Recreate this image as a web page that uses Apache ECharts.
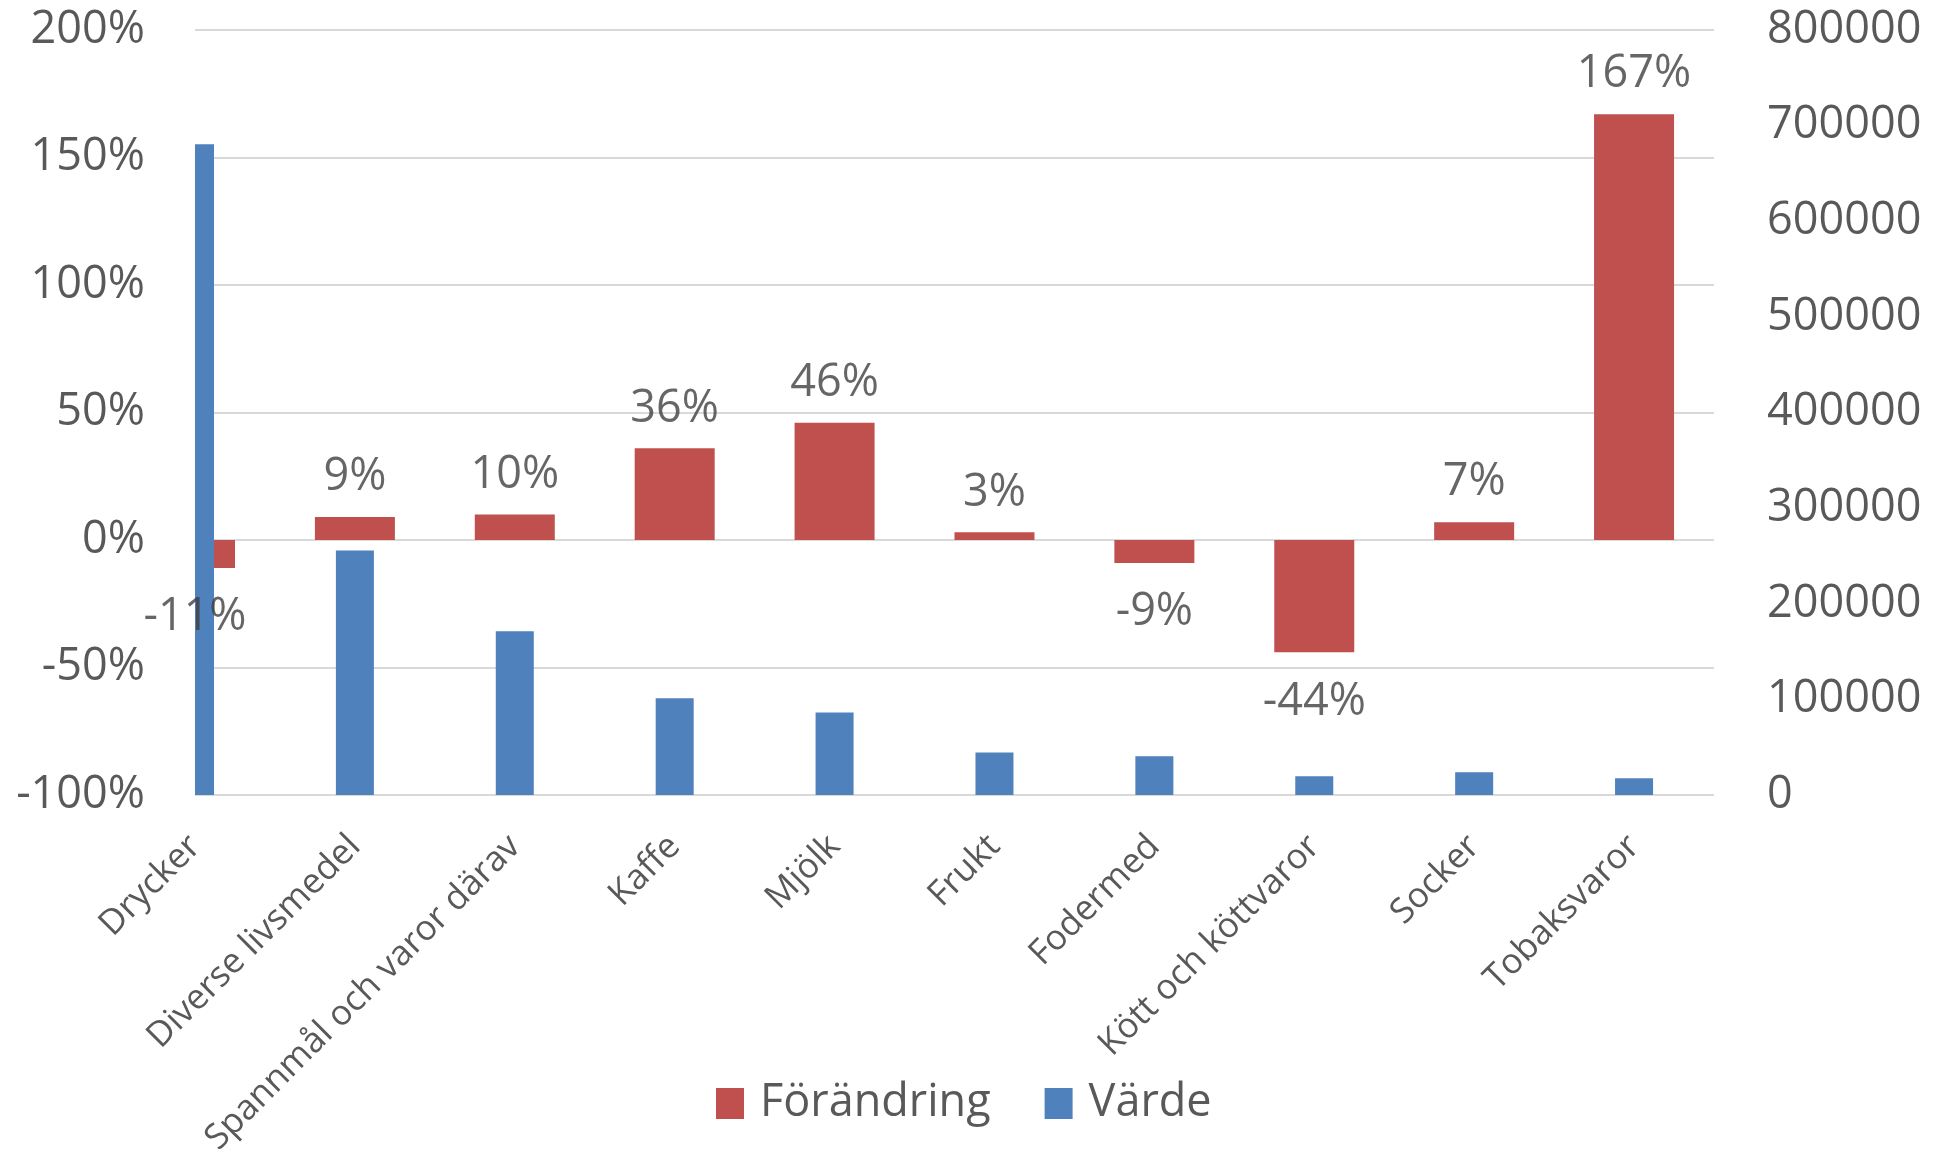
<!DOCTYPE html>
<html>
<head>
<meta charset="utf-8">
<title>Förändring och värde</title>
<script src="https://cdn.jsdelivr.net/npm/echarts@6/dist/echarts.min.js"></script>
<style>
  html, body { margin: 0; padding: 0; background: #fff; }
  #chart { width: 1941px; height: 1149px; }
</style>
</head>
<body>
<div id="chart"></div>
<script>
// kategorier
const categories = ['Drycker', 'Diverse livsmedel', 'Spannmål och varor därav', 'Kaffe', 'Mjölk',
  'Frukt', 'Fodermed', 'Kött och köttvaror', 'Socker', 'Tobaksvaror']
// förändring (andel)
const change = [-0.11, 0.09, 0.10, 0.36, 0.46, 0.03, -0.09, -0.44, 0.07, 1.67]
// värde
const value = [680500, 255600, 171300, 101200, 86200, 44400, 40500, 19600, 23800, 17500]

const RED = '#C0504D'
const BLUE = '#4F81BD'
const FONT = 'Open Sans'

const pct = v => Math.round(v * 100) + '%'

// staplar som klipps mot plotytan (första kategorin ligger på vänsterkanten)
function barItem(width) {
  return function (params, api) {
    const x = api.value(0)
    const top = api.coord([x, api.value(1)])
    const base = api.coord([x, 0])
    const cs = params.coordSys
    const rect = echarts.graphic.clipRectByRect({
      x: top[0] - width / 2,
      y: Math.min(top[1], base[1]),
      width: width,
      height: Math.abs(top[1] - base[1])
    }, { x: cs.x, y: cs.y, width: cs.width, height: cs.height })
    return rect && { type: 'rect', shape: rect, style: api.style() }
  }
}

const chart = echarts.init(document.getElementById('chart'))

chart.setOption({
  animation: false,
  textStyle: { fontFamily: FONT },
  grid: { left: 195, right: 227, top: 30, bottom: 354, containLabel: false, outerBoundsMode: 'none' },
  legend: {
    data: ['Förändring', 'Värde'],
    left: 711,
    top: 1076,
    icon: 'rect',
    itemWidth: 28,
    itemHeight: 31,
    itemGap: 54,
    textStyle: { fontSize: 45, color: '#595959', fontFamily: FONT, padding: [0, 0, 0, 11] }
  },
  xAxis: {
    type: 'value',
    min: 0,
    max: categories.length - 0.5,
    interval: 1,
    axisLine: { show: false },
    axisTick: { show: false },
    splitLine: { show: false },
    axisLabel: {
      rotate: 45,
      margin: 46,
      fontSize: 35,
      color: '#595959',
      fontFamily: FONT,
      formatter: v => categories[v] || ''
    }
  },
  yAxis: [
    {
      type: 'value',
      min: -1,
      max: 2,
      interval: 0.5,
      axisLine: { show: false },
      axisTick: { show: false },
      splitLine: { lineStyle: { color: '#d9d9d9', width: 2 } },
      axisLabel: { fontSize: 45, color: '#595959', margin: 50, formatter: pct }
    },
    {
      type: 'value',
      min: 0,
      max: 800000,
      interval: 100000,
      axisLine: { show: false },
      axisTick: { show: false },
      splitLine: { show: false },
      axisLabel: { fontSize: 45, color: '#595959', margin: 53, formatter: v => String(v) }
    }
  ],
  series: [
    {
      name: 'Förändring',
      type: 'custom',
      yAxisIndex: 0,
      renderItem: barItem(80),
      itemStyle: { color: RED },
      encode: { x: 0, y: 1 },
      z: 2,
      data: change.map((v, i) => [i, v])
    },
    {
      name: 'Värde',
      type: 'custom',
      yAxisIndex: 1,
      renderItem: barItem(38),
      itemStyle: { color: BLUE },
      encode: { x: 0, y: 1 },
      z: 3,
      data: value.map((v, i) => [i, v])
    },
    {
      // dataetiketter för förändring, på kategorins mitt
      name: 'etiketter',
      type: 'scatter',
      yAxisIndex: 0,
      symbolSize: 0,
      silent: true,
      z: 10,
      data: change.map((v, i) => ({
        value: [i, v],
        label: {
          show: true,
          position: v < 0 ? 'bottom' : 'top',
          distance: v < 0 ? 27 : 17,
          fontSize: 45,
          color: '#404040',
          fontFamily: FONT,
          formatter: p => pct(p.value[1])
        }
      }))
    }
  ]
})
</script>
</body>
</html>
